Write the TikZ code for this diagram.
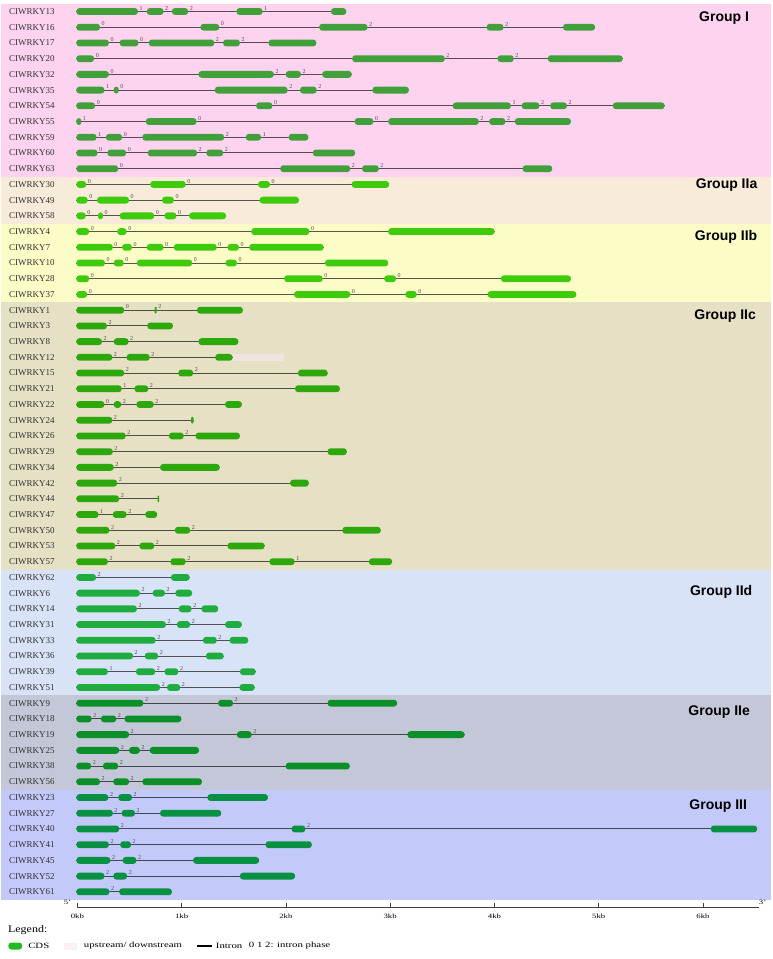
\documentclass[tikz,border=0pt]{standalone}
\usepackage{fontspec}
\setmainfont{Liberation Serif}
\newfontfamily\grpfont{Liberation Sans}
\usetikzlibrary{positioning}

\definecolor{bgI}{HTML}{FDD3F0}
\definecolor{bgIIa}{HTML}{F8EBDA}
\definecolor{bgIIb}{HTML}{FBFCC6}
\definecolor{bgIIc}{HTML}{E6E0C4}
\definecolor{bgIId}{HTML}{D9E3F7}
\definecolor{bgIIe}{HTML}{C3C7D8}
\definecolor{bgIII}{HTML}{C3C9F9}
\definecolor{cdsI}{HTML}{41A03A}
\definecolor{cdsIIab}{HTML}{3DCB0C}
\definecolor{cdsIIc}{HTML}{2CA80C}
\definecolor{cdsIId}{HTML}{1EAD3E}
\definecolor{cdsIIe}{HTML}{0B8F28}
\definecolor{cdsIII}{HTML}{089142}
\definecolor{cdsleg}{HTML}{22BB22}
\definecolor{utr}{HTML}{EFE7DF}
\definecolor{utrleg}{HTML}{FBF0F0}

\newcommand{\stretchtext}[1]{\scalebox{1.35}[1]{#1}}

% one gene: row, name, colour, end of intron line, exons start/end/phase
\newcommand{\gene}[5]{%
  \pgfmathsetmacro{\ry}{11.5+15.72*#1}
  \node[genename] (g#1) at (18,\ry) {#2};
  \draw[intron] (155,\ry) -- (#4,\ry);
  \foreach \s/\e/\p in {#5}{%
    \pgfmathsetmacro{\rr}{min(3,(\e-\s)*0.2463)}
    \fill[#3, rounded corners=\rr pt] (\s,\ry-3.4) rectangle (\e,\ry+3.4);
    \if\p-\else\node[phase] (p#1-\e) at (\e+3,\ry-1) {\p};\fi
  }%
}

\begin{document}
\begin{tikzpicture}[x=0.4926pt, y=-1pt,
    genename/.style={anchor=west, inner sep=0pt, text=black!80,
      font=\fontsize{9}{9}\selectfont},
    phase/.style={anchor=south west, inner sep=0pt, text=black!70,
      font=\fontsize{6}{6}\selectfont},
    intron/.style={draw=black, opacity=0.65, line width=1pt},
    grouplab/.style={inner sep=0pt, font=\grpfont\bfseries\fontsize{14}{14}\selectfont},
    axisline/.style={draw=black!75, line width=0.8pt},
    kblab/.style={inner sep=0pt, font=\fontsize{6.5}{6.5}\selectfont},
    leglab/.style={anchor=west, inner sep=0pt, font=\fontsize{8}{8}\selectfont}
  ]
  \useasboundingbox (0,0) rectangle (1567.2,959);

  \foreach \top/\bot/\col in {3.6/176.6/bgI, 176.6/223.7/bgIIa, 223.7/302.3/bgIIb,
      302.3/569.6/bgIIc, 569.6/695.3/bgIId, 695.3/789.6/bgIIe, 789.6/899.7/bgIII}
    \fill[\col] (2,\top) rectangle (1565,\bot);

  \node[grouplab] (grpI) at (1470,18) {Group I};
  \node[grouplab] (grpIIa) at (1475,185) {Group IIa};
  \node[grouplab] (grpIIb) at (1474,237) {Group IIb};
  \node[grouplab] (grpIIc) at (1472,316) {Group IIc};
  \node[grouplab] (grpIId) at (1464,592) {Group IId};
  \node[grouplab] (grpIIe) at (1460,712) {Group IIe};
  \node[grouplab] (grpIII) at (1458,806) {Group III};

  \gene{0}{CIWRKY13}{cdsI}{703}{155/280/1, 298/332/2, 349/382/2, 480/533/1, 672/703/-}
  \gene{1}{CIWRKY16}{cdsI}{1208}{155/203/0, 407/445/0, 648/746/2, 988/1022/2, 1143/1208/-}
  \gene{2}{CIWRKY17}{cdsI}{642}{155/221/0, 243/281/0, 302/435/2, 453/487/2, 545/642/-}
  \gene{3}{CIWRKY20}{cdsI}{1264}{155/191/0, 715/903/2, 1010/1043/2, 1112/1264/-}
  \gene{4}{CIWRKY32}{cdsI}{714}{155/221/0, 403/556/2, 580/611/2, 654/714/-}
  \gene{5}{CIWRKY35}{cdsI}{830}{155/212/1, 231/241/0, 436/584/2, 609/643/2, 756/830/-}
  \gene{6}{CIWRKY54}{cdsI}{1349}{155/193/0, 520/553/0, 919/1037/1, 1059/1095/2, 1117/1151/2, 1244/1349/-}
  \gene{7}{CIWRKY55}{cdsI}{1159}{155/165/1, 296/399/0, 720/758/0, 788/972/2, 993/1026/2, 1045/1159/-}
  \gene{8}{CIWRKY59}{cdsI}{626}{155/196/1, 215/248/0, 289/455/2, 499/530/1, 586/626/-}
  \gene{9}{CIWRKY60}{cdsI}{721}{155/198/0, 218/256/0, 300/400/2, 419/453/2, 635/721/-}
  \gene{10}{CIWRKY63}{cdsI}{1121}{155/240/0, 569/711/2, 735/769/2, 1061/1121/-}

  \gene{11}{CIWRKY30}{cdsIIab}{790}{155/175/0, 305/377/0, 524/548/0, 714/790/-}
  \gene{12}{CIWRKY49}{cdsIIab}{607}{155/178/0, 197/262/0, 329/353/0, 527/607/-}
  \gene{13}{CIWRKY58}{cdsIIab}{459}{155/174/0, 199/209/0, 243/313/0, 334/358/0, 384/459/-}

  \gene{14}{CIWRKY4}{cdsIIab}{1004}{155/181/0, 238/257/0, 510/628/0, 788/1004/-}
  \gene{15}{CIWRKY7}{cdsIIab}{657}{155/229/0, 248/268/0, 298/332/0, 353/440/0, 462/485/0, 506/657/-}
  \gene{16}{CIWRKY10}{cdsIIab}{788}{155/213/0, 231/251/0, 278/390/0, 458/481/0, 660/788/-}
  \gene{17}{CIWRKY28}{cdsIIab}{1159}{155/181/0, 577/655/0, 780/804/0, 1017/1159/-}
  \gene{18}{CIWRKY37}{cdsIIab}{1170}{155/177/0, 597/711/0, 823/846/0, 990/1170/-}

  \gene{19}{CIWRKY1}{cdsIIc}{493}{155/252/0, 314/318/2, 400/493/-}
  \gene{20}{CIWRKY3}{cdsIIc}{351}{155/217/2, 299/351/-}
  \gene{21}{CIWRKY8}{cdsIIc}{484}{155/207/2, 231/261/2, 403/484/-}
  \fill[utr] (472,{11.5+15.72*22-3.4}) rectangle (576,{11.5+15.72*22+3.4});
  \gene{22}{CIWRKY12}{cdsIIc}{472}{155/228/2, 257/304/2, 437/472/-}
  \gene{23}{CIWRKY15}{cdsIIc}{665}{155/252/2, 362/392/2, 605/665/-}
  \gene{24}{CIWRKY21}{cdsIIc}{690}{155/247/1, 273/301/2, 599/690/-}
  \gene{25}{CIWRKY22}{cdsIIc}{491}{155/212/0, 231/246/2, 277/312/2, 457/491/-}
  \gene{26}{CIWRKY24}{cdsIIc}{393}{155/228/2, 388/393/-}
  \gene{27}{CIWRKY26}{cdsIIc}{487}{155/255/2, 343/373/2, 397/487/-}
  \gene{28}{CIWRKY29}{cdsIIc}{704}{155/229/2, 665/704/-}
  \gene{29}{CIWRKY34}{cdsIIc}{446}{155/231/2, 325/446/-}
  \gene{30}{CIWRKY42}{cdsIIc}{627}{155/238/2, 589/627/-}
  \gene{31}{CIWRKY44}{cdsIIc}{323}{155/242/2, 320/323/-}
  \gene{32}{CIWRKY47}{cdsIIc}{319}{155/200/1, 229/257/2, 295/319/-}
  \gene{33}{CIWRKY50}{cdsIIc}{773}{155/222/2, 355/386/2, 695/773/-}
  \gene{34}{CIWRKY53}{cdsIIc}{537}{155/234/2, 283/313/2, 462/537/-}
  \gene{35}{CIWRKY57}{cdsIIc}{796}{155/219/2, 346/377/2, 547/598/1, 749/796/-}

  \gene{36}{CIWRKY62}{cdsIId}{385}{155/195/2, 347/385/-}
  \gene{37}{CIWRKY6}{cdsIId}{390}{155/284/2, 310/335/2, 356/390/-}
  \gene{38}{CIWRKY14}{cdsIId}{443}{155/278/2, 363/389/2, 409/443/-}
  \gene{39}{CIWRKY31}{cdsIId}{491}{155/337/2, 359/386/2, 457/491/-}
  \gene{40}{CIWRKY33}{cdsIId}{504}{155/316/2, 412/440/2, 466/504/-}
  \gene{41}{CIWRKY36}{cdsIId}{454}{155/270/2, 294/321/2, 418/454/-}
  \gene{42}{CIWRKY39}{cdsIId}{519}{155/219/1, 276/315/2, 334/362/2, 487/519/-}
  \gene{43}{CIWRKY51}{cdsIId}{517}{155/325/2, 339/366/2, 486/517/-}

  \gene{44}{CIWRKY9}{cdsIIe}{806}{155/291/2, 443/473/2, 665/806/-}
  \gene{45}{CIWRKY18}{cdsIIe}{368}{155/186/2, 205/236/2, 253/368/-}
  \gene{46}{CIWRKY19}{cdsIIe}{943}{155/262/2, 481/511/2, 827/943/-}
  \gene{47}{CIWRKY25}{cdsIIe}{404}{155/242/2, 262/284/2, 304/404/-}
  \gene{48}{CIWRKY38}{cdsIIe}{710}{155/185/2, 209/240/2, 580/710/-}
  \gene{49}{CIWRKY56}{cdsIIe}{410}{155/203/2, 230/262/2, 289/410/-}

  \gene{50}{CIWRKY23}{cdsIII}{544}{155/220/2, 240/268/2, 421/544/-}
  \gene{51}{CIWRKY27}{cdsIII}{449}{155/229/2, 247/274/2, 325/449/-}
  \gene{52}{CIWRKY40}{cdsIII}{1537}{155/242/2, 592/620/2, 1443/1537/-}
  \gene{53}{CIWRKY41}{cdsIII}{633}{155/221/2, 244/266/2, 539/633/-}
  \gene{54}{CIWRKY45}{cdsIII}{526}{155/224/2, 249/277/2, 392/526/-}
  \gene{55}{CIWRKY52}{cdsIII}{599}{155/212/2, 230/258/2, 487/599/-}
  \gene{56}{CIWRKY61}{cdsIII}{349}{155/222/2, 242/349/-}

  % scale bar
  \coordinate (ax0) at (157,907.7);
  \coordinate (ax1) at (1540,907.7);
  \draw[axisline] (ax0) -- (ax1);
  \foreach \k in {0,...,6}{
    \draw[axisline] ({157+211.7*\k},907.7) -- ++(0,-4.5);
    \node[kblab] (kb\k) at ({157+211.7*\k},916) {\stretchtext{\k kb}};
  }
  \node[kblab] (five) at (137,902) {\stretchtext{5'}};
  \node[kblab] (three) at (1548,902) {\stretchtext{3'}};

  % legend
  \node[anchor=west, inner sep=0pt, font=\fontsize{10}{10}\selectfont] (legend) at (16,930.5) {\scalebox{1.2}[1]{Legend:}};
  \fill[cdsleg, rounded corners=3pt] (17,942.5) rectangle (45,949.5);
  \node[leglab] (cds) at (57,946) {\stretchtext{CDS}};
  \fill[utrleg] (130,942.5) rectangle (156,949.5);
  \node[leglab] (updown) at (170,946) {\stretchtext{upstream/ downstream}};
  \coordinate (intA) at (400,946);
  \coordinate (intB) at (430,946);
  \draw[black, line width=1.2pt] (intA) -- (intB);
  \node[leglab] (intr) at (438,946) {\stretchtext{Intron}};
  \node[leglab] (phs) at (505,946) {\stretchtext{0 1 2: intron phase}};
\end{tikzpicture}
\end{document}
